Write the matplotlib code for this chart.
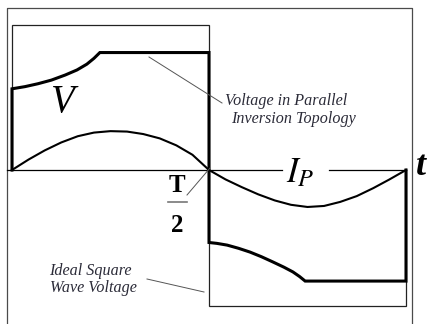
import matplotlib
matplotlib.use("Agg")
import matplotlib.pyplot as plt
from matplotlib.transforms import Affine2D

# temps en fraction de période (T = 1), tension en % de l'onde carrée idéale
t_ideal = [0, 0, 0.5, 0.5, 1, 1]
v_ideal = [0, 100, 100, -94, -94, 0]

# tension de l'onduleur en topologie parallèle
t_par = [0, 0, 0.033, 0.066, 0.10, 0.135, 0.165, 0.19, 0.208, 0.223, 0.5,
         0.5, 0.52, 0.546, 0.575, 0.604, 0.633, 0.662, 0.69, 0.713, 0.73, 0.744, 1, 1]
v_par = [0, 56, 57.5, 59.5, 62, 65.5, 69, 73, 77, 81, 81,
         -50, -50.6, -51.8, -54, -56.6, -59.8, -63.4, -67, -70.3, -73.5, -76.6, -76.6, 0]

# courant I_P
t_ip = [0, 0.042, 0.083, 0.125, 0.167, 0.208, 0.25, 0.292, 0.333, 0.375, 0.417, 0.458, 0.5,
        0.542, 0.583, 0.625, 0.667, 0.708, 0.75, 0.792, 0.833, 0.875, 0.917, 0.958, 1]
i_p = [0, 7.2, 13.5, 19, 23.3, 25.8, 26.8, 26.5, 24.8, 21.8, 17, 10.5, 0,
       -6.5, -11.8, -16.8, -21, -24, -25.5, -24.8, -22, -18, -12.5, -6.5, 0]

W, H = 428, 324
fig = plt.figure(figsize=(W / 100, H / 100), dpi=100)
ax = fig.add_axes([0, 0, 1, 1])
ax.axis('off')
ax.set_xlim(-12 / 394, (W - 12) / 394)
ax.set_ylim(-(H - 170) / 1.45, 170 / 1.45)

# repère en pixels (origine en haut à gauche) pour le cadre et les annotations
pix = Affine2D().scale(1 / W, -1 / H).translate(0, 1) + fig.transFigure

serif = 'Liberation Serif'
ink = '#2b2b38'

# cadre extérieur
ax.plot([7, 7, 412, 412], [H, 8, 8, H], color='#4a4a4a', lw=0.9, transform=pix, clip_on=False)

# axe des temps, interrompu sous I_P
ax.plot([7, 282], [170, 170], color='black', lw=0.9, transform=pix)
ax.plot([329, 406], [170, 170], color='black', lw=0.9, transform=pix)

ax.plot(t_ideal, v_ideal, color='#222222', lw=0.9, solid_joinstyle='miter')
ax.plot(t_par, v_par, color='black', lw=2.2, solid_joinstyle='miter')
ax.plot(t_ip, i_p, color='black', lw=1.5)

# lignes de rappel
ax.plot([149, 222], [57, 103], color='#555555', lw=0.7, transform=pix)
ax.plot([147, 204], [279, 292], color='#555555', lw=0.7, transform=pix)
ax.plot([187, 210], [195, 168], color='#555555', lw=0.7, transform=pix)

ax.text(63, 112, 'V', transform=pix, family=serif, style='italic', fontsize=28,
        ha='center', va='baseline')
ax.text(286, 182, '$I_P$', transform=pix, fontsize=25, ha='left', va='baseline',
        math_fontfamily='stix')
ax.text(416, 175, 't', transform=pix, family=serif, style='italic', weight='bold',
        fontsize=26, ha='left', va='baseline')

# T/2
ax.text(177, 192, 'T', transform=pix, family=serif, weight='bold', fontsize=18,
        ha='center', va='baseline')
ax.plot([168, 187], [202, 202], color='#777777', lw=1.2, transform=pix)
ax.text(177, 232, '2', transform=pix, family=serif, weight='bold', fontsize=18,
        ha='center', va='baseline')

ax.text(225, 105, 'Voltage in Parallel', transform=pix, family=serif, style='italic',
        fontsize=11.6, color=ink, ha='left', va='baseline')
ax.text(231, 123, 'Inversion Topology', transform=pix, family=serif, style='italic',
        fontsize=11.6, color=ink, ha='left', va='baseline')
ax.text(49, 275, 'Ideal Square', transform=pix, family=serif, style='italic',
        fontsize=11.6, color=ink, ha='left', va='baseline')
ax.text(50, 292, 'Wave Voltage', transform=pix, family=serif, style='italic',
        fontsize=11.6, color=ink, ha='left', va='baseline')

fig.savefig('out.png', dpi=100, facecolor='white')
